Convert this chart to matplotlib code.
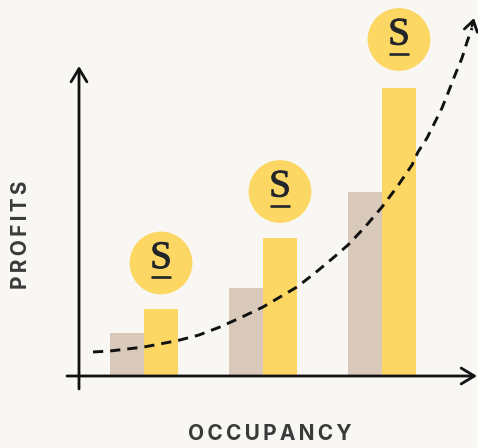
import matplotlib.pyplot as plt
import matplotlib.patheffects as pe
from matplotlib.patches import Circle

plt.rcParams['font.family'] = ['Inter', 'DejaVu Sans']

bg = '#F9F7F4'
yellow = '#FDD764'
tan = '#D9C9BA'
dark = '#111111'

# bar values, measured up from the x axis
left_edges = [110, 229, 348]
tan_values = [43, 88, 184]
yellow_values = [67, 138, 288]
bar_width = 34

# centre height of each coin above the x axis
coin_heights = [113, 184.5, 336.5]

# dashed trend curve
curve_x = [93, 110, 127, 144, 178, 199, 220, 242, 263, 297, 315, 333, 348, 365, 382, 397,
           412, 418, 427, 435, 442, 448, 455, 462, 467, 472]
curve_y = [24, 25, 27, 29, 35.5, 41, 49, 59, 69, 89, 103, 118, 131, 149, 169, 189,
           211, 224, 238, 254, 268, 283, 301, 318, 334, 348]

fig = plt.figure(figsize=(4.78, 4.48), dpi=100, facecolor=bg)
ax = fig.add_axes([0, 0, 1, 1])
ax.set_xlim(0, 478)
ax.set_ylim(-72, 376)
ax.axis('off')

ax.bar(left_edges, tan_values, width=bar_width, align='edge', color=tan, zorder=1)
ax.bar([x + bar_width for x in left_edges], yellow_values, width=bar_width, align='edge',
       color=yellow, zorder=1)

for x, h in zip(left_edges, coin_heights):
    cx = x + bar_width + 17
    ax.add_patch(Circle((cx, h), 30.7, color=yellow, zorder=2))
    s = ax.text(cx, h + 4.5, 'S', family='Liberation Serif', fontsize=28, color='#22262B',
                ha='center', va='center', zorder=3)
    s.set_path_effects([pe.withStroke(linewidth=0.7, foreground='#22262B')])
    ax.plot([cx - 10, cx + 10], [h - 14, h - 14], color='#22262B', lw=1.9,
            solid_capstyle='butt', zorder=3)

ax.plot(curve_x, curve_y, color=dark, lw=2.1, dashes=(3.5, 2.4), zorder=4)

head = '->,head_length=0.63,head_width=0.38'
ax.annotate('', xy=(474, 358), xytext=(472, 350),
            arrowprops=dict(arrowstyle='->,head_length=0.5,head_width=0.32', color=dark, lw=2,
                            mutation_scale=15, shrinkA=0, shrinkB=0))

# axes with arrow heads
ax.annotate('', xy=(477, 0), xytext=(67, 0),
            arrowprops=dict(arrowstyle=head, color=dark, lw=2, mutation_scale=15, shrinkA=0, shrinkB=0), zorder=5)
ax.annotate('', xy=(79, 310), xytext=(79, -13),
            arrowprops=dict(arrowstyle=head, color=dark, lw=2, mutation_scale=15, shrinkA=0, shrinkB=0), zorder=5)

sp = '\u2009'
ax.text(270, -58, sp.join('OCCUPANCY'), fontsize=15, fontweight='bold',
        color='#3A3A3A', ha='center', va='center')
ax.text(21, 141.5, sp.join('PROFITS'), fontsize=15, fontweight='bold',
        color='#3A3A3A', ha='center', va='center', rotation=90)

fig.savefig('out.png', dpi=100, facecolor=bg)
